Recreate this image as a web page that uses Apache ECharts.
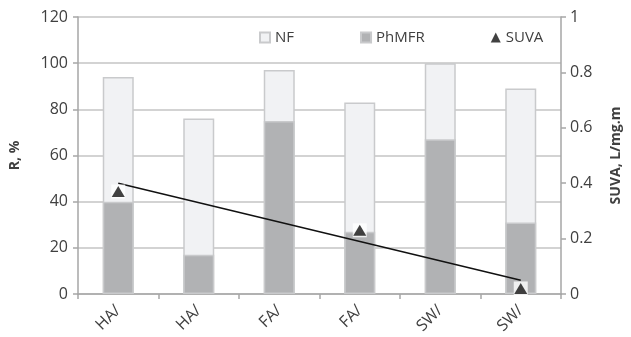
<!DOCTYPE html>
<html><head><meta charset="utf-8">
<script src="https://cdn.jsdelivr.net/npm/echarts@6/dist/echarts.min.js"></script>
<style>html,body{margin:0;padding:0;background:#fff}#c{width:631px;height:337px}</style>
</head><body><div id="c"></div>
<script>
var categories = ['HA/', 'HA/', 'FA/', 'FA/', 'SW/', 'SW/'];
var nfValues = [94, 76, 97, 83, 100, 89];
var phmfrValues = [40, 17, 75, 27, 67, 31];
var suvaValues = [0.37, null, null, 0.23, null, 0.02];
var trendValues = [0.40, null, null, null, null, 0.05];
var leftTicks = [0, 20, 40, 60, 80, 100, 120];
var rightTicks = [0, 0.2, 0.4, 0.6, 0.8, 1];

var font = 'Open Sans';
var txt = '#404040';
var chart = echarts.init(document.getElementById('c'), null, {renderer: 'canvas'});
chart.setOption({
  animation: false,
  textStyle: {fontFamily: font},
  grid: {left: 78, right: 69, top: 17, bottom: 43},
  legend: {
    data: [{name: 'NF', icon: 'rect'}, {name: 'PhMFR', icon: 'rect'}, {name: 'SUVA', icon: 'triangle'}],
    left: 254, top: 25, itemWidth: 10, itemHeight: 10, itemGap: 66,
    textStyle: {fontFamily: font, fontSize: 15, color: txt}
  },
  xAxis: {
    type: 'category', data: categories,
    axisLine: {lineStyle: {color: '#a6a6a6', width: 1.5}},
    axisTick: {show: true, length: 5, lineStyle: {color: '#a6a6a6', width: 1.5}},
    axisLabel: {rotate: 45, fontSize: 16, color: txt, fontFamily: font, margin: 14, interval: 0}
  },
  yAxis: [{
    type: 'value', min: leftTicks[0], max: leftTicks[leftTicks.length - 1], interval: 20,
    name: 'R, %', nameLocation: 'middle', nameGap: 56, nameRotate: 90,
    nameTextStyle: {fontSize: 14, fontWeight: 'bold', color: txt, fontFamily: font},
    axisLine: {show: true, lineStyle: {color: '#a6a6a6', width: 1.5}},
    axisTick: {show: true, length: 5, lineStyle: {color: '#a6a6a6', width: 1.5}},
    axisLabel: {fontSize: 16, color: txt, fontFamily: font, margin: 10},
    splitLine: {show: true, lineStyle: {color: '#c4c4c4', width: 1.5}}
  }, {
    type: 'value', min: rightTicks[0], max: rightTicks[rightTicks.length - 1], interval: 0.2,
    name: 'SUVA, L/mg.m', nameLocation: 'middle', nameGap: 48, nameRotate: 90,
    nameTextStyle: {fontSize: 14, fontWeight: 'bold', color: txt, fontFamily: font},
    axisLine: {show: true, lineStyle: {color: '#a6a6a6', width: 1.5}},
    axisTick: {show: true, length: 5, lineStyle: {color: '#a6a6a6', width: 1.5}},
    axisLabel: {fontSize: 16, color: txt, fontFamily: font, margin: 9},
    splitLine: {show: false}
  }],
  series: [{
    name: 'NF', type: 'bar', data: nfValues, barWidth: 31, barGap: '-100%',
    itemStyle: {color: '#f1f2f4', borderColor: '#c9cacc', borderWidth: 1.5}
  }, {
    name: 'PhMFR', type: 'bar', data: phmfrValues, barWidth: 31,
    itemStyle: {color: '#b1b2b4', borderColor: '#c9cacc', borderWidth: 1.5}
  }, {
    name: 'trend', type: 'line', yAxisIndex: 1, data: trendValues, connectNulls: true,
    showSymbol: false, symbol: 'none', lineStyle: {color: '#111', width: 1.5}, z: 3
  }, {
    name: 'SUVAbox', type: 'scatter', yAxisIndex: 1, data: suvaValues, symbol: 'rect',
    symbolSize: 14, itemStyle: {color: '#ffffff'}, z: 3.5, silent: true
  }, {
    name: 'SUVA', type: 'scatter', yAxisIndex: 1, data: suvaValues, symbol: 'triangle',
    symbolSize: [13, 11], itemStyle: {color: '#111'}, z: 4
  }]
});
</script></body></html>
